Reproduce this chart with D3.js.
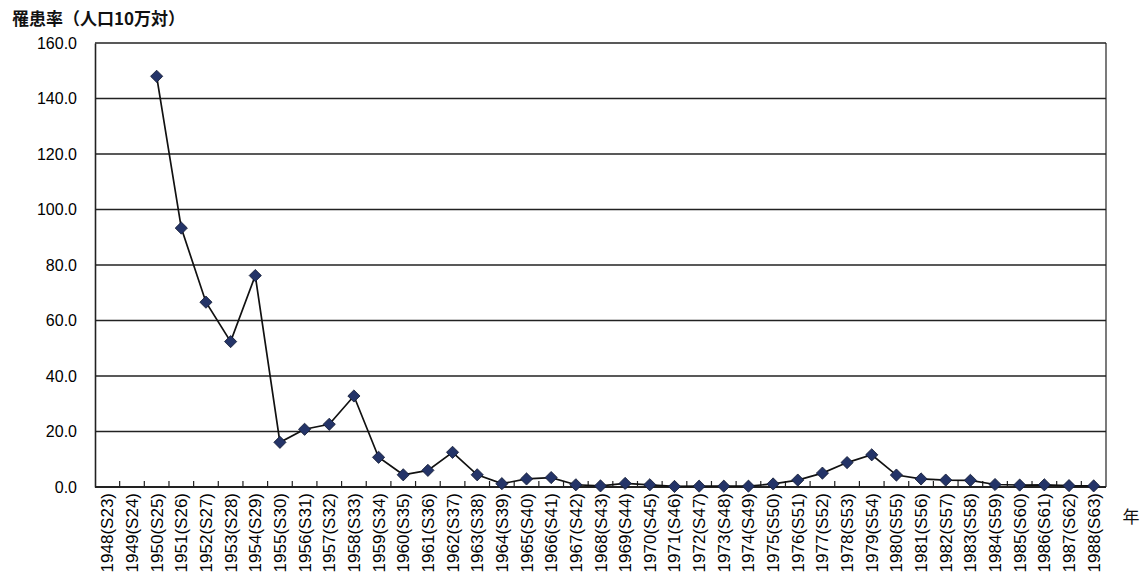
<!DOCTYPE html>
<html>
<head>
<meta charset="utf-8">
<script src="https://cdn.jsdelivr.net/npm/d3@7"></script>
<style>
  html, body { margin: 0; padding: 0; background: #ffffff; }
  svg { display: block; }
</style>
</head>
<body>
<div id="chart"></div>
<script>
// ---- data ----
const years = [1948,1949,1950,1951,1952,1953,1954,1955,1956,1957,1958,1959,1960,1961,1962,1963,1964,1965,1966,1967,1968,1969,1970,1971,1972,1973,1974,1975,1976,1977,1978,1979,1980,1981,1982,1983,1984,1985,1986,1987,1988];
const showaLabels = ["S23","S24","S25","S26","S27","S28","S29","S30","S31","S32","S33","S34","S35","S36","S37","S38","S39","S40","S41","S42","S43","S44","S45","S46","S47","S48","S49","S50","S51","S52","S53","S54","S55","S56","S57","S58","S59","S60","S61","S62","S63"];
const rates = [null,null,148.0,93.3,66.6,52.4,76.2,16.1,20.8,22.6,32.8,10.7,4.4,6.0,12.5,4.4,1.2,2.9,3.4,0.8,0.4,1.3,0.8,0.2,0.3,0.3,0.3,1.1,2.5,5.0,8.8,11.6,4.3,2.9,2.5,2.4,0.9,0.7,0.8,0.5,0.4];
const yTicks = [0,20,40,60,80,100,120,140,160];
const yTitle = "罹患率（人口10万対）";
const xTitle = "年";

// ---- layout ----
const W = 1146, H = 577;
const m = {left: 95, right: 40, top: 43, bottom: 90};
const iw = W - m.left - m.right, ih = H - m.top - m.bottom;

const svg = d3.select("#chart").append("svg").attr("width", W).attr("height", H);
const g = svg.append("g").attr("transform", `translate(${m.left},${m.top})`);

const labels = years.map((y, i) => `${y}(${showaLabels[i]})`);
const x = d3.scaleBand().domain(labels).range([0, iw]).padding(0);
const y = d3.scaleLinear().domain([0, 160]).range([ih, 0]);

const stroke = "#222";

// gridlines
g.append("g").selectAll("line").data(yTicks.filter(d => d > 0)).join("line")
  .attr("x1", 0).attr("x2", iw)
  .attr("y1", d => y(d)).attr("y2", d => y(d))
  .attr("stroke", stroke).attr("stroke-width", 1.4);

// right border
g.append("line").attr("x1", iw).attr("x2", iw).attr("y1", 0).attr("y2", ih)
  .attr("stroke", stroke).attr("stroke-width", 1.2);

// y axis
const yAxis = g.append("g").call(d3.axisLeft(y).tickValues(yTicks).tickSize(0).tickPadding(18).tickFormat(d3.format(".1f")));
yAxis.select(".domain").attr("stroke", stroke).attr("stroke-width", 1.6);
yAxis.selectAll("text").attr("font-family", "'Liberation Sans', Arial, sans-serif")
  .attr("font-size", 16).attr("fill", "#000").attr("dy", "0.34em");

// x axis: ticks at category boundaries, pointing up
const xAxisG = g.append("g").attr("transform", `translate(0,${ih})`);
xAxisG.append("line").attr("x1", 0).attr("x2", iw).attr("y1", 0).attr("y2", 0)
  .attr("stroke", stroke).attr("stroke-width", 1.8);
xAxisG.selectAll("line.tick").data(labels.slice(1)).join("line").attr("class", "tick")
  .attr("x1", d => x(d)).attr("x2", d => x(d)).attr("y1", 0).attr("y2", -6)
  .attr("stroke", stroke).attr("stroke-width", 1.2);
xAxisG.selectAll("text").data(labels).join("text")
  .attr("transform", d => `translate(${x(d) + x.bandwidth() / 2 + 6},6) rotate(-90)`)
  .attr("text-anchor", "end")
  .attr("font-family", "'Liberation Sans', Arial, sans-serif")
  .attr("font-size", 17).attr("fill", "#000")
  .text(d => d);

// line
const pts = labels.map((l, i) => ({l, v: rates[i]})).filter(d => d.v !== null);
g.append("path").datum(pts)
  .attr("fill", "none").attr("stroke", "#111").attr("stroke-width", 1.7)
  .attr("d", d3.line().x(d => x(d.l) + x.bandwidth() / 2).y(d => y(d.v)));

// diamond markers
g.append("g").selectAll("path").data(pts).join("path")
  .attr("transform", d => `translate(${x(d.l) + x.bandwidth() / 2},${y(d.v)})`)
  .attr("d", d3.symbol().type(d3.symbolDiamond2).size(95))
  .attr("fill", "#243468").attr("stroke", "#101830").attr("stroke-width", 0.8);

// titles
svg.append("text").attr("x", 12).attr("y", 25)
  .attr("font-family", "'Noto Sans CJK JP', sans-serif").attr("font-weight", 700)
  .attr("font-size", 17).attr("fill", "#111").text(yTitle);
svg.append("text").attr("x", 1131).attr("y", 523).attr("text-anchor", "middle")
  .attr("font-family", "'Noto Sans CJK JP', sans-serif")
  .attr("font-size", 17).attr("fill", "#111").text(xTitle);
</script>
</body>
</html>
